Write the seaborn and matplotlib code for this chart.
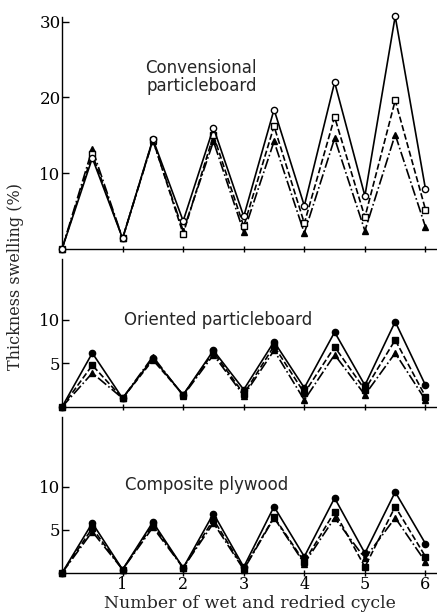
import numpy as np
import pandas as pd
import matplotlib
matplotlib.use("Agg")
import matplotlib.pyplot as plt
import seaborn as sns

# cycle positions: wet (x.5) and redried (integer) stages
cycle = [0, 0.5, 1, 1.5, 2, 2.5, 3, 3.5, 4, 4.5, 5, 5.5, 6]

# Conventional particleboard
conv_circle = [0, 12.0, 1.4, 14.5, 3.7, 16.0, 4.3, 18.4, 5.7, 22.0, 7.0, 30.7, 7.9]
conv_square = [0, 12.5, 1.4, 14.4, 2.0, 15.0, 3.0, 16.2, 3.4, 17.4, 4.2, 19.6, 5.2]
conv_triangle = [0, 13.2, 1.4, 14.3, 2.4, 14.2, 2.2, 14.2, 2.1, 14.6, 2.4, 15.1, 2.9]

# Oriented particleboard
ori_circle = [0, 6.2, 1.0, 5.6, 1.4, 6.5, 2.0, 7.5, 2.2, 8.6, 2.5, 9.8, 2.5]
ori_square = [0, 4.8, 1.0, 5.4, 1.4, 6.3, 1.5, 7.0, 1.6, 6.9, 2.0, 7.7, 1.2]
ori_triangle = [0, 3.9, 1.0, 5.8, 1.3, 6.0, 1.3, 6.5, 0.8, 6.0, 1.4, 6.2, 0.8]

# Composite plywood
ply_circle = [0, 5.8, 0.4, 5.9, 0.6, 6.9, 0.7, 7.7, 1.9, 8.7, 2.3, 9.4, 3.4]
ply_square = [0, 5.2, 0.4, 5.6, 0.6, 6.2, 0.5, 6.5, 1.3, 7.1, 0.7, 7.7, 1.9]
ply_triangle = [0, 4.8, 0.4, 5.3, 0.6, 5.8, 0.4, 6.4, 1.1, 6.4, 1.7, 6.4, 1.3]

panels = [
    ("Convensional\nparticleboard", [conv_circle, conv_square, conv_triangle], True),
    ("Oriented particleboard", [ori_circle, ori_square, ori_triangle], False),
    ("Composite plywood", [ply_circle, ply_square, ply_triangle], False),
]

sns.set_style("white")
plt.rcParams["font.family"] = ["DejaVu Serif"]

fig = plt.figure(figsize=(4.37, 6.15), dpi=100)

rects = [
    [0.1419, 0.5951, 0.8581, 0.3772],
    [0.1419, 0.3382, 0.8581, 0.2407],
    [0.1419, 0.0683, 0.8581, 0.2537],
]
ylims = [30.6, 17.0, 18.1]
yticks = [[10, 20, 30], [5, 10], [5, 10]]
title_pos = [(2.3, 22.7), (2.57, 10.0), (2.39, 10.2)]

styles = [("o", "-"), ("s", "--"), ("^", "-.")]

for i, (title, series, open_marks) in enumerate(panels):
    ax = fig.add_axes(rects[i])
    for j, vals in enumerate(series):
        marker, ls = styles[j]
        # triangles are always filled, circles/squares open on the top panel
        face = "white" if (open_marks and j < 2) else "black"
        df = pd.DataFrame({"cycle": cycle, "swelling": vals})
        sns.lineplot(data=df, x="cycle", y="swelling", ax=ax, color="black",
                     marker=marker, linestyle=ls, linewidth=1.2,
                     markersize=4.5, markerfacecolor=face,
                     markeredgecolor="black", markeredgewidth=1.0,
                     clip_on=False, zorder=3 - j)
    ax.set_xlim(0, 6.19)
    ax.set_ylim(0, ylims[i])
    ax.set_yticks(yticks[i])
    ax.set_xticks([1, 2, 3, 4, 5, 6])
    if i < 2:
        ax.set_xticklabels([])
    ax.set_xlabel("")
    ax.set_ylabel("")
    for s in ["top", "right"]:
        ax.spines[s].set_visible(False)
    for s in ["left", "bottom"]:
        ax.spines[s].set_color("black")
        ax.spines[s].set_linewidth(1.0)
    ax.tick_params(axis="y", direction="in", length=5, width=1.0,
                   labelsize=12, pad=1, colors="black", left=True)
    ax.tick_params(axis="x", direction="inout", length=5, width=1.0,
                   labelsize=11.5, pad=0, colors="black", bottom=True)
    ax.text(title_pos[i][0], title_pos[i][1], title, ha="center", va="center",
            fontsize=12, family="DejaVu Sans", linespacing=1.05)

ax.set_xlabel("Number of wet and redried cycle", fontsize=12.5, labelpad=1)
fig.text(0.035, 0.55, "Thickness swelling (%)", rotation=90, ha="center",
         va="center", fontsize=11.5)

fig.savefig("out.png", dpi=100)
